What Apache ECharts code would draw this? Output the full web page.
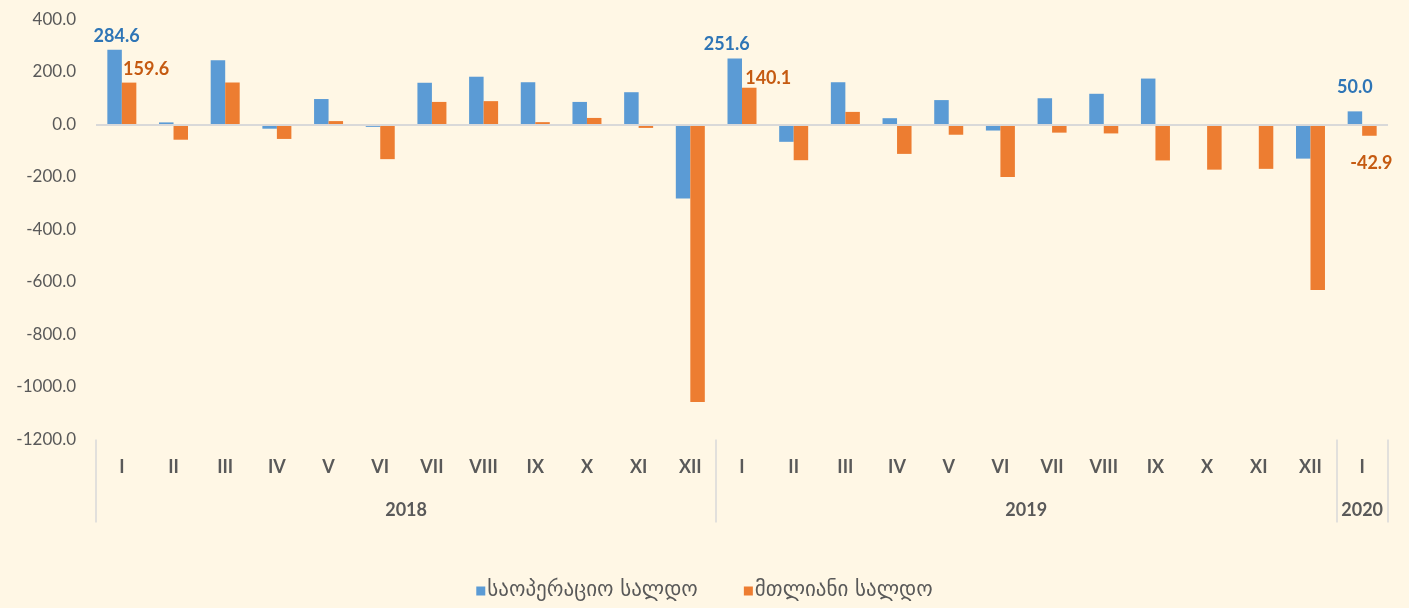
<!DOCTYPE html>
<html>
<head>
<meta charset="utf-8">
<script src="https://cdn.jsdelivr.net/npm/echarts@6/dist/echarts.min.js"></script>
<style>
  html, body { margin: 0; padding: 0; background: #FFF7E5; }
  #chart { width: 1409px; height: 608px; }
</style>
</head>
<body>
<div id="chart"></div>
<script>
// ---- data ----
const months = ['I','II','III','IV','V','VI','VII','VIII','IX','X','XI','XII',
                'I','II','III','IV','V','VI','VII','VIII','IX','X','XI','XII',
                'I'];
const years = ['2018', '2019', '2020'];
const yearSpan = [12, 12, 1];
const seriesNames = ['საოპერაციო სალდო', 'მთლიანი სალდო'];
const operatingBalance = [284.6, 8, 245, -16, 97, -9, 159, 182, 161, 86, 123, -282,
                          251.6, -66, 161, 24, 93, -23, 100, 117, 175, -5, -2, -130,
                          50.0];
const totalBalance = [159.6, -58, 160, -55, 13, -132, 86, 89, 9, 25, -13, -1057,
                      140.1, -136, 48, -112, -39, -200, -31, -34, -137, -172, -169, -630,
                      -42.9];
const yTicks = { min: -1200, max: 400, step: 200 };

// ---- derived ----
const boundaries = [0];
yearSpan.forEach(s => boundaries.push(boundaries[boundaries.length - 1] + s));
const yearCenters = yearSpan.map((s, i) => boundaries[i] + s / 2);
const labeledIdx = boundaries.slice(0, -1); // first month of each year

const BLUE = '#5B9BD5', ORANGE = '#ED7D31';
const BLUE_LBL = '#2E75B6', ORANGE_LBL = '#C55A11';
const GRAY_TXT = '#595959', GRAY_LINE = '#D9D9D9';
const FONT = 'Lato, "DejaVu Sans", sans-serif';

const blueOffsets = [[2, 0], [-8, 0], [0, -10]];
const orangeOffsets = [[17, 1], [19, 4], [2, 13]];

function buildData(values, color, offsets) {
  return values.map((v, i) => {
    const k = labeledIdx.indexOf(i);
    if (k < 0) return v;
    return {
      value: v,
      label: {
        show: true,
        position: v >= 0 ? 'top' : 'bottom',
        distance: 5,
        offset: offsets[k],
        color: color,
        fontFamily: FONT,
        fontWeight: 'bold',
        fontSize: 18,
        lineHeight: 18,
        formatter: p => Number(p.value).toFixed(1)
      }
    };
  });
}

const chart = echarts.init(document.getElementById('chart'), null, { renderer: 'canvas' });
chart.setOption({
  backgroundColor: '#FFF7E5',
  animation: false,
  grid: { left: 96, right: 21, top: 19.5, bottom: 168.5, containLabel: false },
  legend: {
    top: 574,
    left: 'center',
    icon: 'rect',
    itemWidth: 9,
    itemHeight: 9,
    itemGap: 46,
    textStyle: { color: GRAY_TXT, fontSize: 21, lineHeight: 24, fontFamily: '"DejaVu Sans", sans-serif', padding: [0, 0, 0, -3] },
    data: seriesNames
  },
  xAxis: [
    {
      type: 'category',
      data: months,
      position: 'bottom',
      axisLine: { show: false },
      axisTick: { show: false },
      axisLabel: {
        color: GRAY_TXT, fontFamily: FONT, fontWeight: 'bold', fontSize: 18,
        lineHeight: 20, margin: 17.5, interval: 0
      },
      splitLine: { show: false }
    },
    {
      type: 'value',
      min: 0,
      max: boundaries[boundaries.length - 1],
      position: 'bottom',
      axisLine: { show: false },
      axisTick: {
        show: true,
        customValues: boundaries,
        length: 83,
        lineStyle: { color: GRAY_LINE, width: 1.5 }
      },
      axisLabel: {
        show: true,
        customValues: yearCenters,
        margin: 60.5,
        color: GRAY_TXT, fontFamily: FONT, fontWeight: 'bold', fontSize: 18, lineHeight: 20,
        formatter: v => {
          const k = yearCenters.indexOf(v);
          return k >= 0 ? years[k] : '';
        }
      },
      splitLine: { show: false }
    }
  ],
  yAxis: {
    type: 'value',
    min: yTicks.min,
    max: yTicks.max,
    interval: yTicks.step,
    axisLine: { show: false },
    axisTick: { show: false },
    splitLine: { show: false },
    axisLabel: {
      color: GRAY_TXT, fontFamily: FONT, fontSize: 17, margin: 20,
      formatter: v => v.toFixed(1)
    }
  },
  series: [
    {
      name: seriesNames[0],
      type: 'bar',
      xAxisIndex: 0,
      barWidth: 14.5,
      barGap: '0%',
      itemStyle: { color: BLUE },
      data: buildData(operatingBalance, BLUE_LBL, blueOffsets),
      markLine: {
        silent: true,
        symbol: 'none',
        label: { show: false },
        lineStyle: { color: GRAY_LINE, width: 2, type: 'solid' },
        data: [{ yAxis: 0 }]
      },
      z: 2
    },
    {
      name: seriesNames[1],
      type: 'bar',
      xAxisIndex: 0,
      barWidth: 14.5,
      barGap: '0%',
      itemStyle: { color: ORANGE },
      data: buildData(totalBalance, ORANGE_LBL, orangeOffsets),
      z: 2
    }
  ]
});
</script>
</body>
</html>
